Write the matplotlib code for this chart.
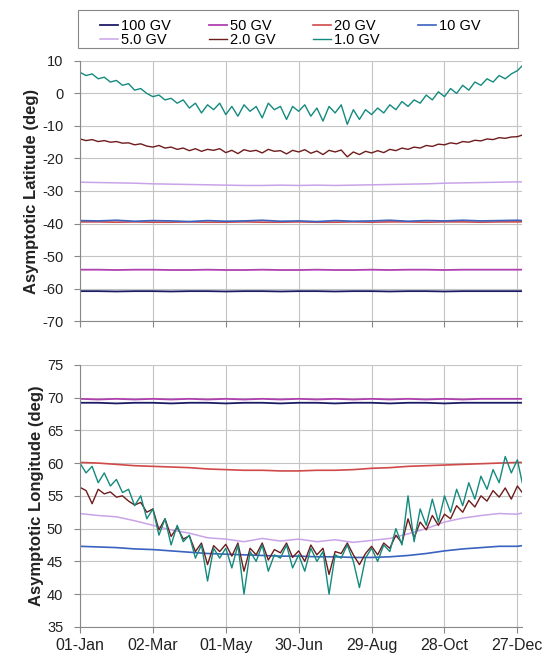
import numpy as np
import matplotlib
matplotlib.use('Agg')
import matplotlib.pyplot as plt
from matplotlib.patches import Rectangle

plt.rcParams['font.family'] = ['Liberation Sans', 'DejaVu Sans']
plt.rcParams['axes.unicode_minus'] = False

# Day-of-year grids: fine grid for the noisy low-rigidity series, coarse grid for the smooth ones
days_fine = list(range(1, 362, 5)) + [365]
days_coarse = list(range(1, 362, 15)) + [365]

tick_days = [1, 61, 121, 181, 241, 301, 361]
tick_labels = ['01-Jan', '02-Mar', '01-May', '30-Jun', '29-Aug', '28-Oct', '27-Dec']

# ---- Asymptotic latitude (deg) ----
lat_100 = [-60.8, -60.8, -60.9, -60.8, -60.8, -60.9, -60.8, -60.8, -60.9, -60.8, -60.8, -60.9, -60.8,
           -60.8, -60.9, -60.8, -60.8, -60.9, -60.8, -60.8, -60.9, -60.8, -60.8, -60.8, -60.8, -60.8]
lat_50 = [-54.2, -54.2, -54.3, -54.2, -54.2, -54.3, -54.3, -54.2, -54.3, -54.3, -54.2, -54.3, -54.3,
          -54.2, -54.3, -54.3, -54.2, -54.3, -54.2, -54.2, -54.3, -54.2, -54.2, -54.2, -54.2, -54.2]
lat_20 = [-39.5, -39.5, -39.6, -39.5, -39.6, -39.6, -39.5, -39.6, -39.6, -39.5, -39.6, -39.6, -39.5,
          -39.6, -39.6, -39.5, -39.6, -39.5, -39.5, -39.6, -39.5, -39.5, -39.6, -39.5, -39.5, -39.5]
lat_10 = [-39.1, -39.2, -39.0, -39.3, -39.1, -39.2, -39.4, -39.1, -39.3, -39.2, -39.0, -39.3, -39.2,
          -39.4, -39.1, -39.3, -39.2, -39.0, -39.3, -39.1, -39.2, -39.0, -39.2, -39.1, -39.0, -39.1]
lat_5 = [-27.3, -27.4, -27.5, -27.6, -27.8, -27.9, -28.0, -28.1, -28.2, -28.3, -28.3, -28.2, -28.3,
         -28.2, -28.3, -28.2, -28.1, -28.0, -27.9, -27.8, -27.6, -27.5, -27.4, -27.3, -27.2, -27.2]
lat_2 = [-14.0, -14.5, -14.2, -14.8, -14.5, -15.0, -14.8, -15.3, -15.2, -15.8, -15.5, -16.2, -16.5,
         -16.0, -16.8, -16.5, -17.2, -16.8, -17.6, -17.0, -17.8, -17.2, -17.5, -17.0, -18.2, -17.5,
         -18.5, -17.3, -17.8, -17.5, -18.3, -17.2, -17.8, -17.6, -18.6, -17.5, -18.0, -17.3, -18.4,
         -17.7, -18.8, -17.5, -18.0, -17.4, -19.5, -18.0, -18.8, -17.8, -18.3, -17.6, -18.2, -17.2,
         -17.6, -16.8, -17.2, -16.5, -16.8, -16.0, -16.3, -15.6, -15.8, -15.2, -15.5, -14.8, -15.0,
         -14.4, -14.6, -14.0, -14.2, -13.6, -13.8, -13.4, -13.3, -12.8]
lat_1 = [6.5, 5.5, 6.0, 4.5, 5.0, 3.5, 4.0, 2.5, 3.0, 1.0, 1.5, 0.0, -1.0, -0.5, -2.0, -1.5, -3.0,
         -2.0, -4.5, -3.0, -6.0, -3.5, -5.0, -3.0, -6.5, -4.0, -7.0, -3.5, -5.5, -4.0, -7.5, -3.0,
         -5.0, -4.0, -8.0, -4.0, -5.5, -3.5, -7.0, -4.5, -8.5, -4.0, -6.0, -3.5, -9.5, -5.0, -8.0,
         -5.0, -6.5, -4.5, -6.0, -3.5, -5.0, -2.5, -4.0, -2.0, -3.0, -0.5, -2.0, 0.5, -1.0, 1.5,
         0.0, 2.5, 1.0, 3.5, 2.5, 4.5, 3.5, 5.5, 4.5, 6.0, 7.0, 8.5]

# ---- Asymptotic longitude (deg) ----
lon_100 = [69.2, 69.2, 69.1, 69.2, 69.2, 69.1, 69.2, 69.2, 69.1, 69.2, 69.2, 69.1, 69.2,
           69.2, 69.1, 69.2, 69.2, 69.1, 69.2, 69.2, 69.1, 69.2, 69.2, 69.2, 69.2, 69.2]
lon_50 = [69.8, 69.7, 69.8, 69.7, 69.8, 69.7, 69.8, 69.7, 69.8, 69.7, 69.8, 69.7, 69.8,
          69.7, 69.8, 69.7, 69.8, 69.7, 69.8, 69.7, 69.8, 69.7, 69.8, 69.8, 69.8, 69.8]
lon_20 = [60.1, 60.0, 59.8, 59.6, 59.5, 59.4, 59.3, 59.1, 59.0, 58.9, 58.9, 58.8, 58.8,
          58.9, 58.9, 59.0, 59.2, 59.3, 59.5, 59.6, 59.7, 59.8, 59.9, 60.0, 60.1, 60.1]
lon_10 = [47.3, 47.2, 47.1, 46.9, 46.8, 46.6, 46.4, 46.2, 46.1, 46.0, 45.9, 45.8, 45.8,
          45.7, 45.7, 45.6, 45.6, 45.7, 45.9, 46.2, 46.6, 46.9, 47.1, 47.3, 47.3, 47.4]
lon_5 = [52.3, 52.0, 51.8, 51.2, 50.5, 49.8, 49.3, 48.6, 48.4, 48.0, 48.5, 48.1, 48.4,
         48.0, 48.3, 47.9, 48.2, 48.5, 49.2, 50.0, 51.0, 51.6, 52.0, 52.3, 52.2, 52.4]
lon_2 = [56.3, 55.8, 53.8, 56.0, 55.3, 55.6, 54.8, 55.0, 54.2, 53.6, 54.0, 52.5, 53.0, 49.8,
         51.5, 48.8, 50.2, 48.4, 48.9, 46.5, 47.8, 44.5, 47.4, 46.5, 47.6, 45.8, 47.8, 43.5, 47.0,
         46.0, 47.8, 45.2, 46.8, 46.3, 47.8, 45.6, 46.6, 45.0, 47.5, 46.0, 47.0, 43.0, 46.5, 46.2,
         47.8, 46.0, 44.5, 46.2, 47.3, 46.0, 47.8, 47.0, 49.0, 47.8, 51.5, 48.6, 51.0, 49.8, 52.0,
         50.5, 52.2, 51.5, 53.5, 52.5, 54.3, 53.3, 55.0, 54.2, 55.8, 54.8, 56.2, 54.5, 56.5, 55.5]
lon_1 = [60.0, 58.5, 59.5, 57.0, 58.5, 56.5, 57.5, 55.5, 56.0, 53.5, 55.0, 51.5, 53.0, 49.0,
         51.5, 47.5, 50.5, 48.0, 49.0, 45.5, 47.5, 42.0, 47.0, 45.5, 47.0, 44.0, 47.5, 40.0, 46.5,
         45.0, 47.5, 43.5, 46.0, 45.5, 47.5, 44.0, 46.0, 43.5, 47.0, 45.0, 46.5, 40.0, 46.0, 45.5,
         47.5, 45.0, 41.0, 45.5, 47.0, 45.0, 47.5, 46.5, 50.0, 47.5, 55.0, 48.0, 53.0, 50.5, 54.5,
         51.0, 55.0, 52.5, 56.0, 53.5, 57.0, 54.5, 58.0, 56.0, 59.0, 57.0, 61.0, 58.5, 60.5, 57.0]

names = ['100 GV', '50 GV', '20 GV', '10 GV', '5.0 GV', '2.0 GV', '1.0 GV']
colors = ['#1c1c66', '#b040b0', '#d04a4a', '#3a62c0', '#c9a3e8', '#6e1c1c', '#138a7e']
widths = [1.3, 1.3, 1.2, 1.2, 1.1, 1.0, 1.0]

lat_series = [(days_coarse, lat_100), (days_coarse, lat_50), (days_coarse, lat_20),
              (days_coarse, lat_10), (days_coarse, lat_5), (days_fine, lat_2), (days_fine, lat_1)]
lon_series = [(days_coarse, lon_100), (days_coarse, lon_50), (days_coarse, lon_20),
              (days_coarse, lon_10), (days_coarse, lon_5), (days_fine, lon_2), (days_fine, lon_1)]

fig = plt.figure(figsize=(5.44, 6.62), dpi=100)
ax1 = fig.add_axes([0.147, 0.515, 0.813, 0.393])
ax2 = fig.add_axes([0.147, 0.053, 0.813, 0.396])

grid_col = '#c4c4c4'


def style_axis(ax, ylim, ystep, ylabel, show_xlabels):
    ax.set_xlim(1, 365)
    ax.set_ylim(*ylim)
    ax.set_yticks(np.arange(ylim[0], ylim[1] + 0.1, ystep))
    ax.set_xticks(tick_days)
    if show_xlabels:
        ax.set_xticklabels(tick_labels)
    else:
        ax.set_xticklabels([])
    ax.grid(True, color=grid_col, linewidth=0.8)
    ax.set_axisbelow(True)
    for side in ['top', 'right']:
        ax.spines[side].set_visible(False)
    for side in ['left', 'bottom']:
        ax.spines[side].set_color('#888888')
        ax.spines[side].set_linewidth(0.8)
    ax.tick_params(direction='out', length=4, width=0.8, color='#888888',
                   labelcolor='#222222')
    ax.tick_params(axis='y', labelsize=10.5, pad=8)
    ax.tick_params(axis='x', labelsize=11.5, pad=4)
    ax.set_ylabel(ylabel, fontsize=12, fontweight='bold', color='#222222', labelpad=2)


handles = []
for (d, v), n, c, w in zip(lat_series, names, colors, widths):
    h, = ax1.plot(d, v, color=c, linewidth=w, label=n)
    handles.append(h)
for (d, v), c, w in zip(lon_series, colors, widths):
    ax2.plot(d, v, color=c, linewidth=w)

style_axis(ax1, (-70, 10), 10, 'Asymptotic Latitude (deg)', False)
style_axis(ax2, (35, 75), 5, 'Asymptotic Longitude (deg)', True)

# legend filled row by row: 100, 50, 20, 10 / 5.0, 2.0, 1.0
order = [0, 4, 1, 5, 2, 6, 3]
leg = fig.legend([handles[i] for i in order], [names[i] for i in order],
                 ncol=4, loc='upper left', bbox_to_anchor=(0.155, 0.994),
                 fontsize=10.5, frameon=False,
                 handlelength=1.25, handletextpad=0.2, labelspacing=0.0,
                 borderpad=0.55, columnspacing=2.6)
fig.patches.append(Rectangle((78 / 544, 1 - 48 / 662), 440 / 544, 38 / 662,
                             transform=fig.transFigure, fill=False,
                             edgecolor='#888888', linewidth=0.8))

fig.savefig('out.png', dpi=100)
